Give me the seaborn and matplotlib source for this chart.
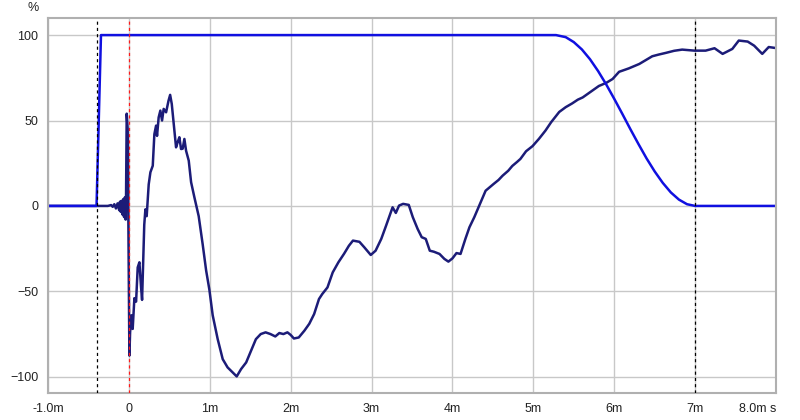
import matplotlib
matplotlib.use("Agg")
import matplotlib.pyplot as plt
import seaborn as sns
import pandas as pd

# impulse response (ms, %)
ir_time = [-1.0, -0.26, -0.22, -0.20, -0.18, -0.16, -0.14, -0.12, -0.11, -0.10,
           -0.09, -0.08, -0.07, -0.06, -0.05, -0.04, -0.035, -0.027, -0.015, 0.006,
           0.015, 0.031, 0.047, 0.068, 0.089, 0.109, 0.13, 0.151, 0.163, 0.19,
           0.204, 0.22, 0.245, 0.266, 0.295, 0.315, 0.336, 0.348, 0.368, 0.389,
           0.41, 0.43, 0.46, 0.49, 0.51, 0.53, 0.555, 0.583, 0.603, 0.624,
           0.645, 0.665, 0.686, 0.707, 0.74, 0.769, 0.81, 0.863, 0.912, 0.955,
           0.995, 1.036, 1.098, 1.16, 1.22, 1.283, 1.333, 1.387, 1.45, 1.51,
           1.57, 1.63, 1.69, 1.75, 1.81, 1.86, 1.91, 1.96, 2.00, 2.04,
           2.10, 2.17, 2.23, 2.29, 2.35, 2.39, 2.455, 2.52, 2.59, 2.66,
           2.72, 2.77, 2.85, 2.91, 2.99, 3.05, 3.12, 3.18, 3.26, 3.30,
           3.34, 3.39, 3.46, 3.51, 3.57, 3.62, 3.67, 3.72, 3.77, 3.84,
           3.90, 3.95, 4.00, 4.05, 4.10, 4.16, 4.21, 4.27, 4.33, 4.41,
           4.51, 4.57, 4.62, 4.69, 4.74, 4.80, 4.84, 4.91, 4.99, 5.07,
           5.15, 5.22, 5.32, 5.40, 5.48, 5.55, 5.61, 5.73, 5.81, 5.90,
           5.98, 6.06, 6.18, 6.31, 6.40, 6.47, 6.55, 6.64, 6.74, 6.84,
           6.99, 7.13, 7.24, 7.34, 7.46, 7.54, 7.65, 7.73, 7.83, 7.91, 8.0]
ir_value = [0, 0, 0.5, -0.5, 1.0, -1.5, 1.5, -2.5, 2.5, -3.5,
            3.0, -5.0, 4.0, -6.5, 5.0, -8.0, 6.0, 54.0, 45.0, -87.6,
            -74, -64, -72, -54, -56, -36, -33, -48, -55, -11,
            -2, -6, 12.6, 19.7, 23.5, 42, 47, 41, 51.8, 55.8,
            50, 56.8, 54.8, 61.6, 65, 59.7, 48, 34.3, 37.3, 40.2,
            33.3, 33.5, 39.2, 32.3, 26.5, 13.9, 5, -6, -22.4, -37.8,
            -49, -64, -78, -89.7, -94.5, -97.5, -99.8, -95.5, -91.6, -84.8,
            -78, -75, -74, -75, -76.4, -74.4, -75, -74, -75.5, -77.6,
            -77, -73, -69, -63.3, -54.5, -51.6, -47.7, -38.9, -33, -28,
            -23.3, -20.3, -21, -24.2, -28.7, -26.2, -19.3, -11.5, -0.8, -4.1,
            0.2, 1.2, 0.6, -6.6, -13.5, -18.3, -19.3, -26.2, -26.8, -28.1,
            -31, -32.6, -30.7, -27.6, -28.1, -19.3, -12.5, -6.6, 0, 8.9,
            12.9, 15.2, 17.7, 20.6, 23.4, 25.8, 27.5, 32, 35, 39.3,
            44.1, 49, 55, 57.8, 60, 62.2, 63.5, 67.5, 70.2, 72.0,
            74.3, 78.5, 80.5, 83.1, 85.6, 87.6, 88.6, 89.6, 90.8, 91.5,
            90.9, 90.9, 92.3, 89, 91.9, 96.8, 96.2, 93.8, 89, 93, 92.4]

# window (ms, %)
win_time = [-1.0, -0.40, -0.345, 5.28, 5.4, 5.5, 5.6, 5.7, 5.8, 5.9, 6.0, 6.1,
            6.2, 6.3, 6.4, 6.5, 6.6, 6.7, 6.8, 6.9, 7.0, 8.0]
win_value = [0, 0, 100, 100, 98.8, 95.9, 91.6, 85.9, 79.0, 71.2, 62.7, 53.9,
             44.9, 36.2, 27.8, 20.2, 13.5, 7.9, 3.7, 1.0, 0, 0]

# markers
black_marks = [-0.4, 7.0]
red_marks = [0.0]

x_ticks = [-1, 0, 1, 2, 3, 4, 5, 6, 7, 8]
x_labels = ["-1.0m", "0", "1m", "2m", "3m", "4m", "5m", "6m", "7m", "8.0m s"]
y_ticks = [-100, -50, 0, 50, 100]

ir = pd.DataFrame({"t": ir_time, "v": ir_value})
win = pd.DataFrame({"t": win_time, "v": win_value})

sns.set_style("white")
plt.rcParams["font.family"] = ["Liberation Sans", "DejaVu Sans"]

fig = plt.figure(figsize=(8, 4.2), dpi=100)
ax = fig.add_axes([48 / 800, 27 / 420, 728 / 800, 375 / 420])

sns.lineplot(data=ir, x="t", y="v", ax=ax, color="#1c1c78", linewidth=1.8,
             estimator=None, sort=False)
sns.lineplot(data=win, x="t", y="v", ax=ax, color="#1010e0", linewidth=1.8,
             estimator=None, sort=False)

for m in black_marks:
    ax.axvline(m, color="black", linestyle=(0, (2.5, 2.5)), linewidth=0.9, zorder=4)
for m in red_marks:
    ax.axvline(m, color="#ff1a1a", linestyle=(0, (2.5, 2.5)), linewidth=0.9, zorder=4)

ax.set_xlim(-1.0, 8.0)
ax.set_ylim(-109.5, 110)
ax.set_xticks(x_ticks)
ax.set_xticklabels(x_labels)
ax.set_yticks(y_ticks)
ax.grid(True, color="#c8c8c8", linewidth=1.0)
ax.set_axisbelow(True)
ax.tick_params(length=0, labelsize=9, pad=7, colors="#222222")
ax.get_xticklabels()[-1].set_horizontalalignment("right")
ax.set_xlabel("")
ax.set_ylabel("")
for s in ax.spines.values():
    s.set_visible(True)
    s.set_color("#b0b0b0")
    s.set_linewidth(1.5)

fig.text(33 / 800, 1 - 8 / 420, "%", fontsize=9, ha="center", va="center",
         color="#222222")

fig.savefig("out.png", dpi=100)
